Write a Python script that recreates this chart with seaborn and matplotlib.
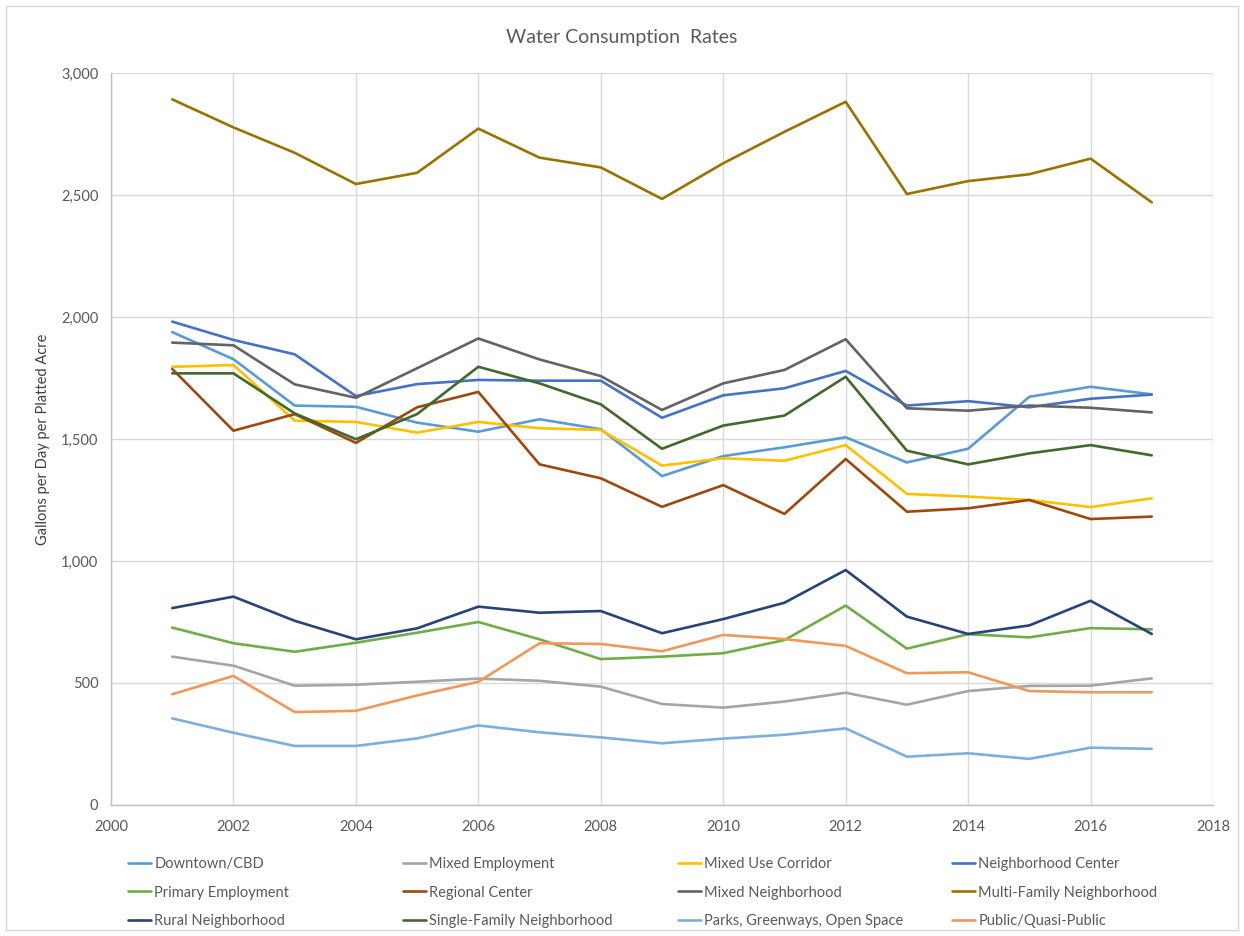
import matplotlib
matplotlib.use("Agg")
import matplotlib.pyplot as plt
import matplotlib.ticker as mticker
from matplotlib.patches import Rectangle
from matplotlib.lines import Line2D
import numpy as np
import pandas as pd
import seaborn as sns

years = list(range(2001, 2018))

downtown_cbd = [1938, 1827, 1637, 1632, 1567, 1530, 1581, 1540, 1348, 1430, 1466, 1507, 1404, 1460, 1673, 1714, 1683]
mixed_employment = [608, 571, 489, 493, 505, 518, 509, 485, 414, 399, 424, 460, 411, 467, 488, 489, 519]
mixed_use_corridor = [1796, 1803, 1575, 1570, 1526, 1570, 1544, 1537, 1391, 1421, 1411, 1475, 1275, 1264, 1250, 1221, 1257]
neighborhood_center = [1981, 1906, 1847, 1676, 1725, 1742, 1739, 1739, 1587, 1679, 1708, 1779, 1637, 1655, 1630, 1665, 1682]
primary_employment = [727, 663, 628, 665, 706, 750, 679, 598, 608, 622, 676, 817, 641, 700, 687, 725, 720]
regional_center = [1787, 1534, 1602, 1484, 1630, 1693, 1396, 1339, 1222, 1311, 1193, 1418, 1202, 1216, 1250, 1172, 1182]
mixed_neighborhood = [1895, 1884, 1724, 1669, 1790, 1912, 1826, 1758, 1619, 1728, 1783, 1909, 1626, 1616, 1637, 1628, 1609]
multi_family = [2892, 2777, 2673, 2545, 2591, 2772, 2653, 2613, 2484, 2630, 2759, 2882, 2504, 2557, 2585, 2649, 2470]
rural_neighborhood = [807, 854, 755, 679, 724, 813, 788, 795, 704, 762, 829, 963, 772, 701, 736, 837, 701]
single_family = [1769, 1769, 1605, 1499, 1602, 1796, 1728, 1642, 1460, 1555, 1596, 1755, 1452, 1396, 1441, 1475, 1433]
parks_open_space = [355, 296, 242, 242, 273, 326, 298, 277, 253, 272, 288, 314, 198, 212, 189, 235, 230]
public_quasi = [454, 529, 381, 386, 449, 505, 663, 660, 630, 697, 680, 652, 540, 544, 467, 462, 462]

series_names = [
    "Downtown/CBD", "Mixed Employment", "Mixed Use Corridor", "Neighborhood Center",
    "Primary Employment", "Regional Center", "Mixed Neighborhood", "Multi-Family Neighborhood",
    "Rural Neighborhood", "Single-Family Neighborhood", "Parks, Greenways, Open Space", "Public/Quasi-Public",
]
series_values = [
    downtown_cbd, mixed_employment, mixed_use_corridor, neighborhood_center,
    primary_employment, regional_center, mixed_neighborhood, multi_family,
    rural_neighborhood, single_family, parks_open_space, public_quasi,
]
series_colors = [
    "#5B9BD5", "#A5A5A5", "#FFC000", "#4472C4",
    "#70AD47", "#9E480E", "#636363", "#997300",
    "#264478", "#43682B", "#7CAFDD", "#F1975A",
]

x_ticks = list(range(2000, 2019, 2))
y_ticks = list(range(0, 3001, 500))

frames = [pd.DataFrame({"Year": years, "Rate": vals, "Land Use": name})
          for name, vals in zip(series_names, series_values)]
df = pd.concat(frames, ignore_index=True)

sns.set_theme(style="white")
plt.rcParams["font.family"] = ["Lato", "DejaVu Sans"]
text_color = "#595959"

W, H = 1244, 936
fig = plt.figure(figsize=(W / 100, H / 100), dpi=100)
ax = fig.add_axes([111 / W, 1 - 805 / H, (1213 - 111) / W, (805 - 73) / H])

sns.lineplot(data=df, x="Year", y="Rate", hue="Land Use", hue_order=series_names,
             palette=dict(zip(series_names, series_colors)), linewidth=1.9,
             legend=False, ax=ax)

ax.set_xlim(2000, 2018)
ax.set_ylim(0, 3000)
ax.set_xticks(x_ticks)
ax.set_yticks(y_ticks)
ax.yaxis.set_major_formatter(mticker.FuncFormatter(lambda v, p: f"{int(v):,}"))
ax.grid(True, color="#D9D9D9", linewidth=1.0)
ax.set_axisbelow(True)
for side in ["top", "right"]:
    ax.spines[side].set_visible(False)
for side in ["left", "bottom"]:
    ax.spines[side].set_color("#BFBFBF")
    ax.spines[side].set_linewidth(1.0)
ax.tick_params(axis="both", length=0, labelsize=10.5, labelcolor=text_color)
ax.tick_params(axis="x", pad=11)
ax.tick_params(axis="y", pad=9)
ax.set_xlabel("")
ax.set_ylabel("Gallons per Day per Platted Acre", fontsize=10.5, color="#404040", labelpad=8)

fig.text(0.5, 1 - 38 / H, "Water Consumption  Rates", ha="center", va="center",
         fontsize=14, color=text_color)

# Legend laid out as four evenly spaced columns, filled row by row
col_x = [128, 403, 678, 952]
for c in range(4):
    idx = [c, c + 4, c + 8]
    handles = [Line2D([], [], color=series_colors[i], linewidth=1.9) for i in idx]
    labels = [series_names[i] for i in idx]
    fig.legend(handles, labels, loc="upper left",
               bbox_to_anchor=(col_x[c] / W, 1 - 857 / H),
               frameon=False, fontsize=10.5, labelcolor=text_color,
               handlelength=1.6, handletextpad=0.2, labelspacing=1.0,
               borderaxespad=0, borderpad=0)

fig.patches.append(Rectangle((6 / W, 6 / H), (W - 12) / W, (H - 12) / H,
                             transform=fig.transFigure, fill=False,
                             edgecolor="#D9D9D9", linewidth=1.0))

fig.savefig("out.png", dpi=100)
